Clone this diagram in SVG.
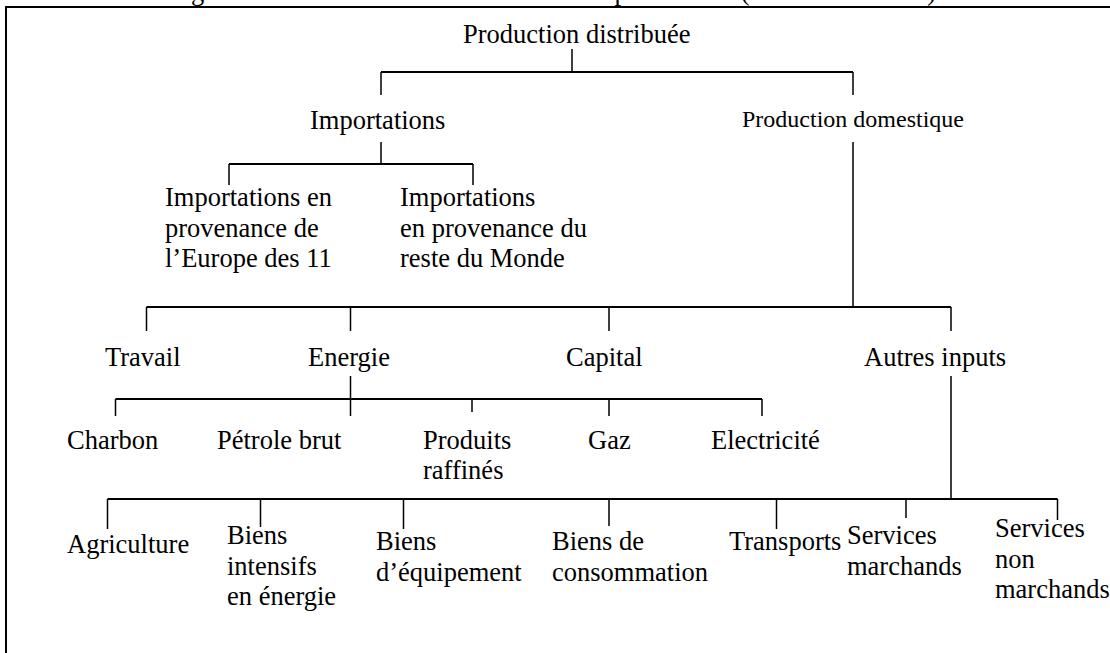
<svg xmlns="http://www.w3.org/2000/svg" width="1110" height="653" viewBox="0 0 1110 653">
<style>
text{font-family:"Liberation Serif","Times New Roman",serif;font-size:26.5px;fill:#000}
.sm{font-size:24px}
.c line{stroke:#000;stroke-width:1.5}
.c .bar{stroke-width:2}
</style>
<rect x="0" y="0" width="1110" height="653" fill="#fff"/>
<text id="title" x="168" y="0" textLength="768" lengthAdjust="spacing">Figure 1 : La structure de la fonction de production (cas de la France)</text>
<path d="M6 653V7H1110" fill="none" stroke="#000" stroke-width="2"/>
<g class="c" id="connectors">
<line x1="572" y1="49" x2="572" y2="72"/>
<line class="bar" x1="381" y1="72" x2="853" y2="72"/>
<line x1="381" y1="72" x2="381" y2="95"/>
<line x1="853" y1="72" x2="853" y2="95"/>
<line x1="381" y1="142" x2="381" y2="164"/>
<line class="bar" x1="229" y1="164" x2="473" y2="164"/>
<line x1="229" y1="164" x2="229" y2="185"/>
<line x1="473" y1="164" x2="473" y2="185"/>
<line x1="853" y1="142" x2="853" y2="307"/>
<line class="bar" x1="146.5" y1="307" x2="951" y2="307"/>
<line x1="146.5" y1="307" x2="146.5" y2="331"/>
<line x1="350.5" y1="307" x2="350.5" y2="331"/>
<line x1="609" y1="307" x2="609" y2="331"/>
<line x1="951" y1="307" x2="951" y2="331"/>
<line x1="350.5" y1="376" x2="350.5" y2="399"/>
<line class="bar" x1="115.5" y1="399" x2="762" y2="399"/>
<line x1="115.5" y1="399" x2="115.5" y2="416"/>
<line x1="350.5" y1="399" x2="350.5" y2="416"/>
<line x1="472" y1="399" x2="472" y2="412"/>
<line x1="609" y1="399" x2="609" y2="416"/>
<line x1="762" y1="399" x2="762" y2="416"/>
<line x1="951" y1="376" x2="951" y2="499"/>
<line class="bar" x1="107.5" y1="499" x2="1057.5" y2="499"/>
<line x1="107.5" y1="499" x2="107.5" y2="529"/>
<line x1="260.5" y1="499" x2="260.5" y2="527"/>
<line x1="403.5" y1="499" x2="403.5" y2="529"/>
<line x1="609" y1="499" x2="609" y2="526"/>
<line x1="776.5" y1="499" x2="776.5" y2="529"/>
<line x1="906" y1="499" x2="906" y2="518"/>
<line x1="1057.5" y1="499" x2="1057.5" y2="520"/>
</g>
<g id="n-prod-dist"><text x="463" y="43">Production distribuée</text></g>
<g id="n-importations"><text x="310" y="129">Importations</text></g>
<g id="n-prod-dom"><text class="sm" x="742" y="127">Production domestique</text></g>
<g id="n-imp-eu"><text x="165" y="206">Importations en</text><text x="165" y="237">provenance de</text><text x="165" y="267">l’Europe des 11</text></g>
<g id="n-imp-rdm"><text x="400" y="206">Importations</text><text x="400" y="237">en provenance du</text><text x="400" y="267">reste du Monde</text></g>
<g id="n-travail"><text x="105" y="366">Travail</text></g>
<g id="n-energie"><text x="308" y="366">Energie</text></g>
<g id="n-capital"><text x="566" y="366">Capital</text></g>
<g id="n-autres"><text x="864" y="366">Autres inputs</text></g>
<g id="n-charbon"><text x="67" y="449">Charbon</text></g>
<g id="n-petrole"><text x="217" y="449">Pétrole brut</text></g>
<g id="n-produits"><text x="423" y="449">Produits</text><text x="423" y="479">raffinés</text></g>
<g id="n-gaz"><text x="588" y="449">Gaz</text></g>
<g id="n-elec"><text x="711" y="449">Electricité</text></g>
<g id="n-agri"><text x="67" y="553">Agriculture</text></g>
<g id="n-biens-int"><text x="227" y="544">Biens</text><text x="227" y="575">intensifs</text><text x="227" y="605">en énergie</text></g>
<g id="n-biens-eq"><text x="376" y="550">Biens</text><text x="376" y="581">d’équipement</text></g>
<g id="n-biens-conso"><text x="552" y="550">Biens de</text><text x="552" y="581">consommation</text></g>
<g id="n-transports"><text x="729" y="550">Transports</text></g>
<g id="n-serv-m"><text x="847" y="544">Services</text><text x="847" y="575">marchands</text></g>
<g id="n-serv-nm"><text x="995" y="537">Services</text><text x="995" y="568">non</text><text x="995" y="598">marchands</text></g>
</svg>
